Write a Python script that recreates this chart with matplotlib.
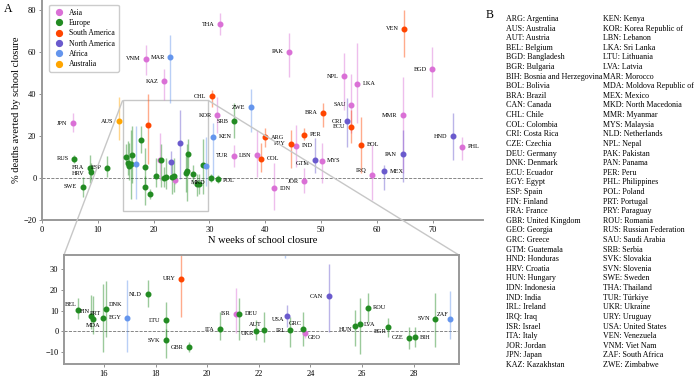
import matplotlib
matplotlib.use("Agg")
import matplotlib.pyplot as plt
from matplotlib.lines import Line2D
from mpl_toolkits.axes_grid1.inset_locator import mark_inset

plt.rcParams['font.family'] = ['Liberation Serif', 'DejaVu Serif']

# data: country code, continent, weeks closed, % averted, lower, upper
codes = ['THA', 'VNM', 'KAZ', 'KOR', 'TUR', 'JPN', 'PAK', 'BGD', 'NPL', 'LKA',
         'SAU', 'MMR', 'PHL', 'IND', 'LBN', 'MYS', 'IRQ', 'JOR', 'IDN', 'ISR', 'GEO',
         'SRB', 'RUS', 'FRA', 'HRV', 'ESP', 'SWE', 'MKD', 'POL', 'BEL', 'FIN',
         'MDA', 'PRT', 'DNK', 'NLD', 'LTU', 'SVK', 'GBR', 'ITA', 'DEU', 'UKR',
         'AUT', 'IRL', 'GRC', 'HUN', 'LVA', 'ROU', 'BGR', 'CZE', 'BIH', 'SVN',
         'CHL', 'URY', 'VEN', 'BRA', 'ECU', 'ARG', 'PER', 'PRY', 'BOL', 'COL',
         'CRI', 'HND', 'GTM', 'MEX', 'PAN', 'USA', 'CAN',
         'MAR', 'KEN', 'ZWE', 'EGY', 'ZAF',
         'AUS']
continent = ['Asia'] * 21 + ['Europe'] * 30 + ['South America'] * 10 + \
    ['North America'] * 7 + ['Africa'] * 5 + ['Australia']
weeks = [31.9, 18.7, 21.9, 31.4, 34.4, 5.5, 44.2, 69.9, 54.1, 56.4,
         55.4, 64.6, 75.2, 45.5, 38.5, 50.1, 59.1, 47.0, 41.6, 21.1, 23.8,
         34.4, 5.8, 8.6, 8.7, 11.6, 7.3, 30.25, 31.45, 14.98, 15.49,
         15.59, 15.97, 16.08, 17.69, 18.39, 18.39, 19.29, 20.5, 21.23, 21.91,
         22.2, 23.21, 23.72, 25.72, 25.91, 26.22, 27.02, 27.83, 28.04, 28.84,
         30.5, 19.0, 64.9, 50.3, 55.3, 40.0, 46.9, 44.6, 57.1, 39.2,
         54.7, 73.6, 48.9, 61.3, 64.6, 23.11, 24.71,
         23.0, 30.7, 37.4, 16.89, 29.42,
         13.8]
averted = [73.3, 56.7, 46.2, 30.0, 10.5, 26.0, 60.1, 51.9, 48.4, 44.9,
           34.8, 29.8, 14.8, 15.4, 10.8, 8.2, 1.6, -1.6, -4.9, 8.5, -1.0,
           27.1, 9.1, 4.9, 3.0, 4.9, -4.1, 0.0, -0.7, 10.2, 7.2,
           5.9, 6.7, 10.8, 17.9, 5.3, -4.4, -7.7, 1.0, 8.5, 0.2,
           0.65, 0.5, 1.1, 2.6, 3.4, 11.5, 2.1, -3.1, -2.8, 6.1,
           39.0, 25.4, 71.0, 31.0, 24.3, 19.5, 20.6, 16.3, 15.9, 9.2,
           27.1, 20.0, 8.7, 3.2, 11.3, 7.4, 16.9,
           57.5, 19.7, 33.7, 6.7, 5.9,
           27.0]
lower = [68.1, 49.0, 37.0, 21.4, 5.2, 22.0, 48.2, 38.4, 32.4, 26.0,
         21.3, 2.2, 8.6, 5.4, 0.6, -2.5, -10.5, -7.3, -15.2, -1.0, -3.0,
         19.0, 7.3, -2.5, -1.0, 0.6, -8.9, -2.0, -2.5, 5.8, 1.3,
         -1.1, -10.2, -2.5, 11.7, -3.0, -12.7, -10.2, -4.1, -4.4, -4.4,
         -5.3, -7.7, -6.9, -6.9, -10.8, 4.6, -2.8, -8.5, -7.7, -7.7,
         34.0, 6.8, 57.8, 24.4, 16.5, 14.9, 18.1, 4.6, 2.2, 3.0,
         15.0, 8.6, 2.2, -5.7, -1.8, 2.1, -0.3,
         35.7, -1.0, 22.0, -10.2, -3.6,
         18.0]
upper = [78.7, 63.3, 52.0, 38.7, 15.7, 31.0, 69.2, 62.2, 59.4, 64.4,
         49.5, 48.3, 19.7, 25.2, 22.9, 16.5, 15.7, 4.6, 7.0, 21.2, 1.0,
         35.7, 10.8, 11.0, 7.0, 10.5, 0.6, 2.0, 1.5, 16.1, 17.7,
         16.9, 22.7, 24.6, 24.8, 14.4, 1.0, -5.3, 9.5, 16.3, 5.4,
         9.5, 7.1, 9.5, 10.3, 16.3, 18.6, 6.4, 2.1, 2.1, 18.6,
         42.0, 40.0, 80.0, 35.6, 32.4, 23.7, 23.7, 22.9, 28.9, 16.5,
         38.0, 30.8, 18.9, 6.2, 22.9, 12.8, 32.5,
         68.0, 26.0, 42.2, 25.0, 19.4,
         38.7]

names = {
    'ARG': 'Argentina', 'AUS': 'Australia', 'AUT': 'Austria', 'BEL': 'Belgium',
    'BGD': 'Bangladesh', 'BGR': 'Bulgaria', 'BIH': 'Bosnia and Herzegovina',
    'BOL': 'Bolivia', 'BRA': 'Brazil', 'CAN': 'Canada', 'CHL': 'Chile',
    'COL': 'Colombia', 'CRI': 'Costa Rica', 'CZE': 'Czechia', 'DEU': 'Germany',
    'DNK': 'Denmark', 'ECU': 'Ecuador', 'EGY': 'Egypt', 'ESP': 'Spain',
    'FIN': 'Finland', 'FRA': 'France', 'GBR': 'United Kingdom', 'GEO': 'Georgia',
    'GRC': 'Greece', 'GTM': 'Guatemala', 'HND': 'Honduras', 'HRV': 'Croatia',
    'HUN': 'Hungary', 'IDN': 'Indonesia', 'IND': 'India', 'IRL': 'Ireland',
    'IRQ': 'Iraq', 'ISR': 'Israel', 'ITA': 'Italy', 'JOR': 'Jordan',
    'JPN': 'Japan', 'KAZ': 'Kazakhstan', 'KEN': 'Kenya',
    'KOR': 'Korea Republic of', 'LBN': 'Lebanon', 'LKA': 'Sri Lanka',
    'LTU': 'Lithuania', 'LVA': 'Latvia', 'MAR': 'Morocco',
    'MDA': 'Moldova Republic of', 'MEX': 'Mexico', 'MKD': 'North Macedonia',
    'MMR': 'Myanmar', 'MYS': 'Malaysia', 'NLD': 'Netherlands', 'NPL': 'Nepal',
    'PAK': 'Pakistan', 'PAN': 'Panama', 'PER': 'Peru', 'PHL': 'Philippines',
    'POL': 'Poland', 'PRT': 'Portugal', 'PRY': 'Paraguay', 'ROU': 'Romania',
    'RUS': 'Russian Federation', 'SAU': 'Saudi Arabia', 'SRB': 'Serbia',
    'SVK': 'Slovakia', 'SVN': 'Slovenia', 'SWE': 'Sweden', 'THA': 'Thailand',
    'TUR': 'Türkiye', 'UKR': 'Ukraine', 'URY': 'Uruguay', 'USA': 'United States',
    'VEN': 'Venezuela', 'VNM': 'Viet Nam', 'ZAF': 'South Africa',
    'ZWE': 'Zimbabwe'}

colors = {'Asia': 'orchid', 'Europe': 'forestgreen', 'South America': 'orangered',
          'North America': 'slateblue', 'Africa': 'cornflowerblue',
          'Australia': 'orange'}

# label offsets in points (default: to the left)
right_side = ['KEN', 'POL', 'LKA', 'PHL', 'ARG', 'PER', 'IND', 'BOL', 'COL',
              'MYS', 'MEX', 'IDN', 'DEU', 'ROU', 'BIH', 'GEO', 'LVA', 'DNK']
offsets = {'HRV': (-4, -1.5), 'MKD': (-4, -3.6), 'POL': (4, -1),
           'GTM': (-4, -3), 'IRQ': (-4, 3),
           'BEL': (-1, 4.3), 'FIN': (-1, 3.5), 'MDA': (0, -4.3),
           'PRT': (-1.5, 3.2), 'DNK': (2, 3.6), 'UKR': (-2, -2.2),
           'AUT': (-1.5, 4.3), 'USA': (-2, -2.4), 'IRL': (-3, 0),
           'GRC': (-1, 4.3), 'GEO': (1.5, -2.9), 'HUN': (-2, -2.6),
           'LVA': (3, 0), 'BGR': (-1, -3), 'ZAF': (-1, 3.5)}

x0, x1, y0, y1 = 14.45, 29.75, -15.8, 37.0

fig = plt.figure(figsize=(7, 3.76), dpi=100)
ax = fig.add_axes([0.06, 0.415, 0.63, 0.585])
axin = fig.add_axes([0.0914, 0.032, 0.564, 0.29])


def draw(a, inset):
    for i, c in enumerate(codes):
        col = colors[continent[i]]
        a.plot([weeks[i], weeks[i]], [lower[i], upper[i]], color=col,
               alpha=0.45, lw=1.0, solid_capstyle='butt', zorder=2)
        a.plot(weeks[i], averted[i], 'o', color=col, ms=3.3, zorder=3)
        inside = x0 <= weeks[i] <= x1 and y0 <= averted[i] <= y1
        if inside != inset:
            continue
        if c in offsets:
            dx, dy = offsets[c]
        elif c in right_side:
            dx, dy = 4, 0
        else:
            dx, dy = -4, 0
        ha = 'right' if dx < 0 else ('left' if dx > 0 else 'center')
        a.annotate(c, (weeks[i], averted[i]), xytext=(dx, dy),
                   textcoords='offset points', ha=ha, va='center',
                   fontsize=4.5, zorder=4)
    a.axhline(0, color='0.45', ls='--', lw=0.6, zorder=1)
    a.tick_params(labelsize=6, length=2, width=0.6, color='0.5', pad=2)


draw(ax, False)
ax.set_xlim(0, 79)
ax.set_ylim(-20, 84.8)
ax.set_xticks(range(0, 80, 10))
ax.set_yticks(range(-20, 81, 20))
for s in ['top', 'right']:
    ax.spines[s].set_visible(False)
for s in ['left', 'bottom']:
    ax.spines[s].set_color('0.6')
    ax.spines[s].set_linewidth(1.4)
ax.set_xlabel('N weeks of school closure', fontsize=7.5, labelpad=2)
ax.set_ylabel('% deaths averted by school closure', fontsize=7.5, labelpad=2)

handles = [Line2D([], [], marker='o', ls='', color=colors[k], ms=4.2, label=k)
           for k in colors]
leg = ax.legend(handles=handles, loc='upper left', fontsize=5.5,
                labelspacing=0.3, handletextpad=0.5, borderpad=0.5,
                handlelength=1.6, bbox_to_anchor=(0.008, 0.995),
                framealpha=1, edgecolor='0.8')

draw(axin, True)
axin.set_xlim(x0, x1)
axin.set_ylim(y0, y1)
axin.set_xticks(range(16, 29, 2))
axin.set_yticks(range(-10, 31, 10))
for s in axin.spines.values():
    s.set_color('0.6')
    s.set_linewidth(1.4)

mark_inset(ax, axin, loc1=2, loc2=1, fc='none', ec='0.78', lw=1.0)

fig.text(0.005, 0.975, 'A', fontsize=8.5, va='center')
fig.text(0.694, 0.96, 'B', fontsize=8.5, va='center')

keys = sorted(names)
half = (len(keys) + 1) // 2
for j, k in enumerate(keys):
    col_x = 0.7229 if j < half else 0.8614
    row = j % half
    fig.text(col_x, 0.9495 - row * 0.02556, f'{k}: {names[k]}',
             fontsize=5.8, va='center')

fig.savefig('out.png', dpi=100)
